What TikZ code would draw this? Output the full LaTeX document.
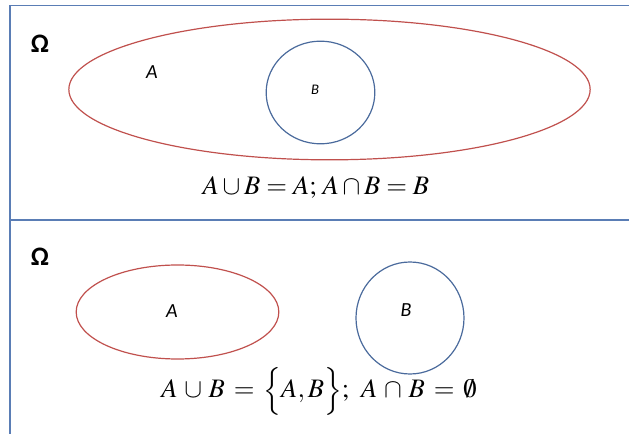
\documentclass[tikz,border=0pt]{standalone}
\usepackage{fontspec}
\usepackage{mathptmx}
\usepackage{tikz}
\usetikzlibrary{shapes.geometric, positioning}
\newfontfamily\labelfont{Carlito}
\definecolor{FrameBlue}{HTML}{5A7DB5}
\definecolor{SetRed}{HTML}{C0504D}
\definecolor{SetBlue}{HTML}{4A6A9C}
\tikzset{
    % Set shapes
    setred/.style={
        ellipse,
        draw=SetRed,
        line width=0.9pt,
        inner sep=0pt
    },
    setblue/.style={
        ellipse,
        draw=SetBlue,
        line width=0.9pt,
        inner sep=0pt
    },
    % Text styles
    omegalabel/.style={
        font=\labelfont\bfseries\fontsize{20}{24}\selectfont
    },
    setlabel/.style={
        font=\labelfont\itshape\fontsize{15}{18}\selectfont
    },
    formula/.style={
        font=\fontsize{20}{24}\selectfont
    },
    % Frame lines
    frameline/.style={
        draw=FrameBlue,
        line width=1.1pt
    }
}
\begin{document}
\begin{tikzpicture}[x=0.75pt, y=-0.75pt]
    \useasboundingbox (0,0) rectangle (629,434);

    % Frame
    \draw[frameline] (10,434) -- (10,5.5) -- (629,5.5);
    \draw[frameline] (10,220) -- (629,220);

    % Top panel - B inside A
    \node[omegalabel] (omegaTop) at (40,44) {Ω};
    \node[setred, minimum width=391pt, minimum height=105.5pt] (bigA) at (329.5,89.5) {};
    \node[setblue, minimum width=81.5pt, minimum height=77pt] (innerB) at (320.5,92.5) {};
    \node[setlabel] (labelA) at (152,72) {A};
    \node[setlabel, font=\labelfont\itshape\fontsize{11}{13}\selectfont] (labelB) at (315,90) {B};
    \node[formula] (eqTop) at (316,187) {$A\cup B = A;\, A\cap B = B$};

    % Bottom panel - disjoint sets
    \node[formula] (eqBot) at (319,391) {$A\,\cup\, B \,=\, \Bigl\{A, B\Bigr\};\;\, A\,\cap\, B \,=\, \emptyset$};
    \node[omegalabel] (omegaBot) at (40,257) {Ω};
    \node[setred, minimum width=152pt, minimum height=70.5pt] (leftA) at (177.5,312) {};
    \node[setblue, minimum width=81pt, minimum height=84pt] (rightB) at (410,318) {};
    \node[setlabel] (labelA2) at (172,311) {A};
    \node[setlabel] (labelB2) at (406,310) {B};
\end{tikzpicture}
\end{document}
